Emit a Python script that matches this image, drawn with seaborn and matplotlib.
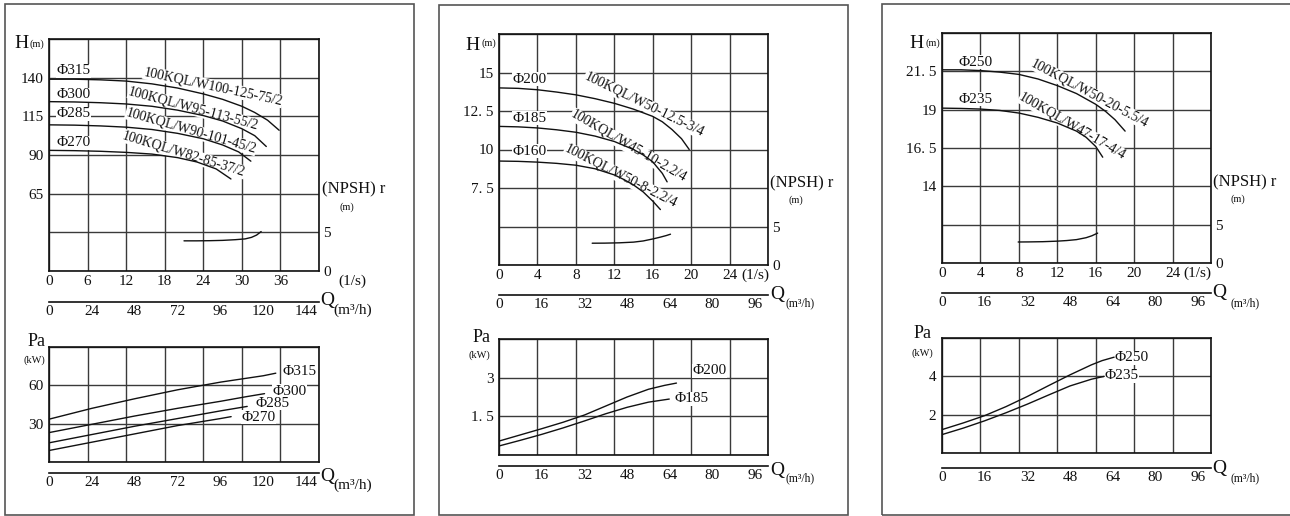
import numpy as np
import matplotlib.pyplot as plt
import seaborn as sns
from matplotlib.patches import Rectangle

# ---------------- data ----------------
# panel 1  (100KQL/W ... /2)
p1_h_q315 = [0, 4, 8, 12, 16, 20, 24, 27, 30, 32, 34, 35.8]
p1_h_315 = [139, 139, 138.6, 137.8, 136, 133.3, 129.5, 126, 121.5, 117.5, 112.5, 106]
p1_h_q300 = [0, 4, 8, 12, 16, 20, 24, 27, 30, 32, 33.8]
p1_h_300 = [124.5, 124.3, 123.8, 123, 121.5, 119, 115.5, 112, 107, 102.5, 95.5]
p1_h_q285 = [0, 4, 8, 12, 16, 20, 24, 27, 29.5, 31.4]
p1_h_285 = [109.5, 109.3, 108.8, 108, 106.5, 104, 100.5, 96.5, 92, 86]
p1_h_q270 = [0, 4, 8, 12, 16, 20, 23, 26, 28.3]
p1_h_270 = [93, 92.8, 92.4, 91.7, 90.6, 88.3, 85.5, 81, 74.5]
p1_npsh_q = [21, 23, 25, 27, 29, 30.5, 31.5, 32.3, 33]
p1_npsh = [3.9, 3.9, 3.92, 3.96, 4.05, 4.15, 4.35, 4.65, 5.1]
p1_pa_q315 = [0, 24, 48, 72, 96, 120, 127]
p1_pa_315 = [33.5, 42, 49.5, 56.5, 62.5, 67.5, 69.5]
p1_pa_q300 = [0, 24, 48, 72, 96, 110, 120.7]
p1_pa_300 = [23, 29.5, 36, 42, 47.5, 51, 53.5]
p1_pa_q285 = [0, 24, 48, 72, 96, 111]
p1_pa_285 = [15, 21.5, 28, 34, 40, 43.5]
p1_pa_q270 = [0, 24, 48, 72, 96, 102]
p1_pa_270 = [9, 15.5, 22, 28.5, 34, 35.5]
p1_models = ['100KQL/W100-125-75/2', '100KQL/W95-113-55/2',
             '100KQL/W90-101-45/2', '100KQL/W82-85-37/2']
p1_dia = ['Φ315', 'Φ300', 'Φ285', 'Φ270']
p1_h_ticks = [15, 40, 65, 90, 115, 140, 165]
p1_h_labels = ['', '', '65', '90', '115', '140', '']
p1_ls_ticks = [0, 6, 12, 18, 24, 30, 36, 42]
p1_ls_labels = ['0', '6', '12', '18', '24', '30', '36', '']
p1_m3h_ticks = [0, 24, 48, 72, 96, 120, 144]
p1_pa_ticks = [0, 30, 60, 90]
p1_pa_labels = ['', '30', '60', '']

# panel 2  (100KQL/W ... /4, small)
p2_h_q200 = [0, 2, 4, 6, 8, 10, 12, 14, 16, 17, 18, 19, 19.8]
p2_h_200 = [14, 13.97, 13.88, 13.73, 13.55, 13.3, 13.0, 12.62, 12.15, 11.8, 11.3, 10.7, 10.0]
p2_h_q185 = [0, 2, 4, 6, 8, 10, 12, 14, 15, 16, 17, 17.5]
p2_h_185 = [11.5, 11.47, 11.4, 11.28, 11.12, 10.87, 10.52, 10.0, 9.65, 9.2, 8.45, 7.9]
p2_h_q160 = [0, 2, 4, 6, 8, 10, 12, 13, 14, 15, 16, 16.8]
p2_h_160 = [9.25, 9.23, 9.18, 9.1, 8.98, 8.75, 8.35, 8.05, 7.7, 7.25, 6.65, 6.1]
p2_npsh_q = [9.7, 11, 12.5, 14, 15, 16, 16.8, 17.4, 17.85]
p2_npsh = [2.83, 2.84, 2.88, 2.97, 3.12, 3.38, 3.62, 3.82, 4.0]
p2_pa_q200 = [0, 8, 16, 24, 32, 40, 48, 56, 62, 66.5]
p2_pa_200 = [0.54, 0.78, 1.02, 1.27, 1.55, 1.9, 2.25, 2.55, 2.7, 2.79]
p2_pa_q185 = [0, 8, 16, 24, 32, 40, 48, 56, 63.8]
p2_pa_185 = [0.35, 0.57, 0.8, 1.05, 1.32, 1.6, 1.85, 2.05, 2.17]
p2_models = ['100KQL/W50-12.5-3/4', '100KQL/W45-10-2.2/4', '100KQL/W50-8-2.2/4']
p2_dia = ['Φ200', 'Φ185', 'Φ160']
p2_h_ticks = [2.5, 5, 7.5, 10, 12.5, 15, 17.5]
p2_h_labels = ['', '', '7. 5', '10', '12. 5', '15', '']
p2_pa_ticks = [0, 1.5, 3, 4.5]
p2_pa_labels = ['', '1. 5', '3', '']

# panel 3  (100KQL/W ... /4, large)
p3_h_q250 = [0, 2, 4, 6, 8, 10, 12, 14, 16, 17, 18, 19.06]
p3_h_250 = [21.6, 21.6, 21.55, 21.45, 21.3, 21.0, 20.57, 20.05, 19.35, 18.9, 18.35, 17.6]
p3_h_q235 = [0, 2, 4, 6, 8, 10, 12, 14, 15, 16, 16.73]
p3_h_235 = [19.1, 19.08, 19.04, 18.95, 18.78, 18.5, 18.13, 17.6, 17.2, 16.6, 15.9]
p3_npsh_q = [7.93, 9, 10.5, 12, 13, 14, 15, 15.6, 16.2]
p3_npsh = [2.74, 2.75, 2.78, 2.85, 2.93, 3.05, 3.3, 3.55, 3.9]
p3_pa_q250 = [0, 8, 16, 24, 32, 40, 48, 56, 60, 64.5]
p3_pa_250 = [1.22, 1.57, 1.95, 2.42, 2.95, 3.52, 4.08, 4.6, 4.82, 5.0]
p3_pa_q235 = [0, 8, 16, 24, 32, 40, 48, 56, 60.8]
p3_pa_235 = [0.96, 1.3, 1.68, 2.1, 2.55, 3.03, 3.5, 3.85, 4.0]
p3_models = ['100KQL/W50-20-5.5/4', '100KQL/W47-17-4/4']
p3_dia = ['Φ250', 'Φ235']
p3_h_ticks = [9, 11.5, 14, 16.5, 19, 21.5, 24]
p3_h_labels = ['', '', '14', '16. 5', '19', '21. 5', '']
p3_pa_ticks = [0, 2, 4, 6]
p3_pa_labels = ['', '2', '4', '']

# panels 2 and 3 share the flow scales
ls_ticks_small = [0, 4, 8, 12, 16, 20, 24, 28]
ls_labels_small = ['0', '4', '8', '12', '16', '20', '24', '']
m3h_ticks_small = [0, 16, 32, 48, 64, 80, 96]
npsh_ticks = [0, 5]

# ---------------- drawing ----------------
sns.set_style('white')
plt.rcParams['font.family'] = ['Liberation Serif', 'DejaVu Serif']

W, H = 1290, 516
fig = plt.figure(figsize=(W / 100, H / 100), dpi=100)
INK = '#111111'
GRID = '#3a3a3a'


def box(x0, y0, x1, y1):
    return fig.add_axes([x0 / W, 1 - y1 / H, (x1 - x0) / W, (y1 - y0) / H])


def ftext(x, y, s, size=10.5, ha='center', va='center'):
    fig.text(x / W, 1 - y / H, s, fontsize=size, ha=ha, va=va, color=INK)


def curve(ax, q, v):
    sns.lineplot(x=q, y=v, ax=ax, color=INK, lw=1.0, zorder=5, legend=False)


def style_grid(ax, xlim, ylim, xticks, xlabels, yticks, ylabels):
    ax.set_xlim(xlim)
    ax.set_ylim(ylim)
    ax.set_xticks(xticks)
    ax.set_xticklabels(xlabels)
    ax.set_yticks(yticks)
    ax.set_yticklabels(ylabels)
    ax.grid(True, color=GRID, lw=1.0)
    ax.tick_params(length=0, labelsize=11, pad=4, colors=INK)
    ax.tick_params(axis='x', pad=3)
    for s in ax.spines.values():
        s.set_color(INK)
        s.set_linewidth(1.2)
    ax.set_xlabel('')
    ax.set_ylabel('')


def npsh_twin(ax, q, v):
    tw = ax.twinx()
    curve(tw, q, v)
    tw.set_ylim(0, 30)
    tw.set_yticks(npsh_ticks)
    tw.set_yticklabels([str(t) for t in npsh_ticks])
    tw.tick_params(length=0, labelsize=11, pad=3, colors=INK)
    tw.grid(False)
    tw.set_ylabel('')
    for s in tw.spines.values():
        s.set_visible(False)
    return tw


def q_axis(x0, x1, y, qmax, ticks):
    ax = box(x0, y - 1, x1, y)
    ax.set_xlim(0, qmax)
    ax.set_yticks([])
    ax.set_xticks(ticks)
    ax.set_xticklabels([str(t) for t in ticks])
    for k in ('top', 'left', 'right'):
        ax.spines[k].set_visible(False)
    ax.spines['bottom'].set_linewidth(1.2)
    ax.spines['bottom'].set_color(INK)
    ax.tick_params(axis='x', direction='in', length=4, width=1,
                   labelsize=11, pad=2, colors=INK)
    ax.patch.set_alpha(0)


def label(ax, x, y, s, size=11, rot=0, ha='left'):
    ax.text(x, y, s, fontsize=size, rotation=rot, rotation_mode='anchor',
            ha=ha, va='center', color=INK, zorder=4,
            bbox=dict(fc='white', ec='none', pad=0.3))


def frame(x0, y0, x1, y1):
    fig.add_artist(Rectangle((x0 / W, 1 - y1 / H), (x1 - x0) / W, (y1 - y0) / H,
                             transform=fig.transFigure, fill=False,
                             ec='#555555', lw=1.2))


MODEL_SIZE = 10

# ===== panel 1 =====
frame(5, 4, 414, 515)
ax = box(49, 39, 319, 271)
for q, v in [(p1_h_q315, p1_h_315), (p1_h_q300, p1_h_300),
             (p1_h_q285, p1_h_285), (p1_h_q270, p1_h_270)]:
    curve(ax, q, v)
style_grid(ax, (0, 42), (15, 165), p1_ls_ticks, p1_ls_labels, p1_h_ticks, p1_h_labels)
npsh_twin(ax, p1_npsh_q, p1_npsh)
for s, y in zip(p1_dia, [144.5, 129, 116.6, 97.8]):
    label(ax, 1.2, y, s)
for s, x, y, r in zip(p1_models, [25.5, 22.5, 22.1, 21.0],
                      [134.2, 119.9, 105.6, 90.6], [-12, -15, -16, -17]):
    label(ax, x, y, s, MODEL_SIZE, r, 'center')
q_axis(49, 319, 302, 151.2, p1_m3h_ticks)

pa = box(49, 347, 319, 462)
for q, v in [(p1_pa_q315, p1_pa_315), (p1_pa_q300, p1_pa_300),
             (p1_pa_q285, p1_pa_285), (p1_pa_q270, p1_pa_270)]:
    curve(pa, q, v)
style_grid(pa, (0, 151.2), (0, 90), [t * 3.6 for t in p1_ls_ticks],
           [''] * len(p1_ls_ticks), p1_pa_ticks, p1_pa_labels)
for s, x, y in zip(p1_dia, [130.6, 125, 115.5, 107.7], [71, 55.3, 46, 35]):
    label(pa, x, y, s)
q_axis(49, 319, 473, 151.2, p1_m3h_ticks)

ftext(22, 43, 'H', 14)
ftext(37, 44, '(m)', 7.5)
ftext(322, 189, '(NPSH) r', 12, ha='left')
ftext(347, 207, '(m)', 7.5)
ftext(352, 281, '(1/s)', 11)
ftext(327, 300, 'Q', 14)
ftext(353, 310, '(m³/h)', 11)
ftext(37, 342, 'Pa', 13)
ftext(34, 360, '(kW)', 7.5)
ftext(327, 477, 'Q', 14)
ftext(353, 485, '(m³/h)', 11)

# ===== panel 2 =====
frame(439, 5, 848, 515)
ax = box(499, 34, 768, 265)
for q, v in [(p2_h_q200, p2_h_200), (p2_h_q185, p2_h_185), (p2_h_q160, p2_h_160)]:
    curve(ax, q, v)
style_grid(ax, (0, 28), (2.5, 17.5), ls_ticks_small, ls_labels_small, p2_h_ticks, p2_h_labels)
npsh_twin(ax, p2_npsh_q, p2_npsh)
for s, y in zip(p2_dia, [14.55, 12.03, 9.9]):
    label(ax, 1.4, y, s)
for s, x, y, r in zip(p2_models, [15.1, 13.5, 12.7], [12.93, 10.22, 8.28], [-26, -30, -27]):
    label(ax, x, y, s, MODEL_SIZE, r, 'center')
q_axis(499, 768, 295, 100.8, m3h_ticks_small)

pa = box(499, 339, 768, 455)
for q, v in [(p2_pa_q200, p2_pa_200), (p2_pa_q185, p2_pa_185)]:
    curve(pa, q, v)
style_grid(pa, (0, 100.8), (0, 4.5), [t * 3.6 for t in ls_ticks_small],
           [''] * len(ls_ticks_small), p2_pa_ticks, p2_pa_labels)
for s, x, y in zip(p2_dia, [72.5, 65.8], [3.27, 2.18]):
    label(pa, x, y, s)
q_axis(499, 768, 466, 100.8, m3h_ticks_small)

ftext(473, 46, 'H', 14)
ftext(489, 43, '(m)', 7.5)
ftext(770, 183, '(NPSH) r', 12, ha='left')
ftext(796, 200, '(m)', 7.5)
ftext(755, 275, '(1/s)', 11)
ftext(777, 295, 'Q', 14)
ftext(800, 303, '(m³/h)', 8.5)
ftext(482, 337, 'Pa', 13)
ftext(479, 355, '(kW)', 7.5)
ftext(777, 470, 'Q', 14)
ftext(800, 478, '(m³/h)', 8.5)

# ===== panel 3 =====
frame(882, 4, 1296, 515)
ax = box(942, 33, 1211, 263)
for q, v in [(p3_h_q250, p3_h_250), (p3_h_q235, p3_h_235)]:
    curve(ax, q, v)
style_grid(ax, (0, 28), (9, 24), ls_ticks_small, ls_labels_small, p3_h_ticks, p3_h_labels)
npsh_twin(ax, p3_npsh_q, p3_npsh)
for s, y in zip(p3_dia, [22.09, 19.67]):
    label(ax, 1.7, y, s)
for s, x, y, r in zip(p3_models, [15.4, 13.6], [20.06, 17.9], [-28, -30]):
    label(ax, x, y, s, MODEL_SIZE, r, 'center')
q_axis(942, 1211, 293, 100.8, m3h_ticks_small)

pa = box(942, 338, 1211, 453)
for q, v in [(p3_pa_q250, p3_pa_250), (p3_pa_q235, p3_pa_235)]:
    curve(pa, q, v)
style_grid(pa, (0, 100.8), (0, 6), [t * 3.6 for t in ls_ticks_small],
           [''] * len(ls_ticks_small), p3_pa_ticks, p3_pa_labels)
for s, x, y in zip(p3_dia, [64.7, 60.9], [4.96, 4.02]):
    label(pa, x, y, s)
q_axis(942, 1211, 468, 100.8, m3h_ticks_small)

ftext(917, 43, 'H', 14)
ftext(933, 43, '(m)', 7.5)
ftext(1213, 182, '(NPSH) r', 12, ha='left')
ftext(1238, 199, '(m)', 7.5)
ftext(1197, 273, '(1/s)', 11)
ftext(1219, 293, 'Q', 14)
ftext(1245, 303, '(m³/h)', 8.5)
ftext(923, 333, 'Pa', 13)
ftext(922, 353, '(kW)', 7.5)
ftext(1219, 468, 'Q', 14)
ftext(1245, 478, '(m³/h)', 8.5)

fig.savefig('out.png', dpi=100, facecolor='white')
